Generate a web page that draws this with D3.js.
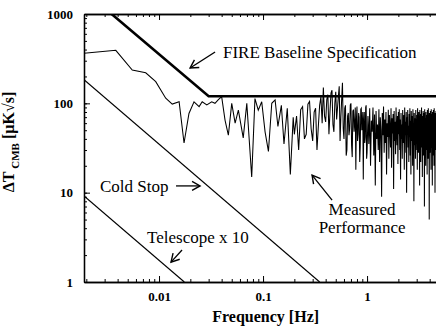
<!DOCTYPE html>
<html>
<head>
<meta charset="utf-8">
<script src="https://cdn.jsdelivr.net/npm/d3@7/dist/d3.min.js"></script>
<style>
  body { margin: 0; background: #fff; }
  svg, svg text { font-family: "Liberation Serif", "Times New Roman", Times, "DejaVu Serif", serif !important; }
  text { fill: #000; }
  .axis path, .axis line { stroke: #000; }
  .axis text { font-weight: bold; font-size: 13px; }
</style>
</head>
<body>
<svg id="chart"></svg>
<script>
// Measured performance, low frequency part (read point by point)
const lowFreq = [0.0019, 0.00384, 0.00553, 0.00745, 0.0093, 0.0116, 0.0134, 0.0156, 0.0174, 0.0194,
  0.0217, 0.0243, 0.026, 0.0288, 0.0321, 0.0345, 0.0372, 0.040, 0.0431, 0.0464,
  0.050, 0.0539, 0.0579, 0.0645, 0.0698, 0.0778, 0.0836, 0.090, 0.0971, 0.1046,
  0.1127, 0.1213, 0.1306, 0.139, 0.150, 0.159, 0.171, 0.183, 0.195];
const lowVals = [363, 392, 236, 220, 175, 114, 98, 104, 36, 77,
  104, 92, 104, 96, 104, 100, 110, 119, 65, 44,
  100, 60, 84, 41, 100, 15, 113, 84, 104, 48,
  29, 100, 109, 55, 95, 35, 88, 16, 70];

// Measured performance, 0.20 - 1.00 Hz, bins 0.01 Hz apart
const midStart = 0.20;
const midStep = 0.01;
const midVals = [
  45, 72, 30, 85, 92, 40, 45, 98, 105, 52,
  38, 80, 88, 30, 55, 95, 118, 60, 150, 72,
  62, 110, 125, 45, 80, 130, 140, 58, 48, 100,
  135, 66, 90, 120, 155, 38, 70, 110, 170, 52,
  40, 88, 95, 26, 30, 72, 78, 44, 52, 96,
  100, 34, 25, 82, 85, 48, 60, 90, 18, 66,
  92, 38, 45, 78, 70, 22, 33, 86, 88, 50,
  56, 80, 14, 62, 80, 36, 42, 90, 95, 24,
  28];

// Measured performance, 1.02 - 4.60 Hz, bins 0.02 Hz apart
const hfStart = 1.02;
const hfStep = 0.02;
const hfVals = [
  72, 35, 88, 20, 64, 48, 90, 26, 75,
  12, 82, 40, 58, 30, 86, 22, 70, 50, 9,
  78, 44, 92, 28, 66, 36, 80, 16, 60, 42,
  85, 24, 74, 54, 32, 88, 19, 68, 46, 76,
  11, 82, 38, 62, 27, 90, 50, 34, 72, 21,
  80, 45, 86, 30, 66, 14, 78, 40, 58, 24,
  84, 52, 36, 74, 18, 90, 44, 62, 28, 80,
  10, 70, 48, 84, 32, 56, 22, 76, 42, 88,
  26, 64, 16, 82, 50, 38, 72, 20, 86, 46,
  60, 8, 78, 34, 68, 52, 24, 84, 40, 74,
  30, 66, 18, 88, 44, 56, 28, 80, 36, 70,
  12, 84, 48, 62, 22, 76, 40, 90, 32, 58,
  15, 72, 46, 82, 26, 64, 38, 78, 7, 86,
  50, 34, 68, 20, 80, 44, 60, 30, 74, 16,
  84, 42, 66, 24, 88, 52, 36, 70, 5, 78,
  48, 62, 28, 82, 40, 70, 18, 86, 46, 56,
  32, 76, 12, 80, 44, 64, 26, 84, 38, 72,
  20, 88, 50, 34, 68, 10, 78, 42, 60, 30,
  82];

// FIRE baseline specification
const specFreq = [0.0035, 0.03, 4.6];
const specVals = [1000, 120, 120];

// Cold stop and telescope (x 10) contributions
const coldFreq = [0.0019, 0.35];
const coldVals = [184, 1];
const teleFreq = [0.0019, 0.0175];
const teleVals = [9.2, 1];

// Tick labels
const xTicks = [0.01, 0.1, 1];
const xTickLabels = ['0.01', '0.1', '1'];
const yTicks = [1, 10, 100, 1000];
const yTickLabels = ['1', '10', '100', '1000'];

const serif = '"Liberation Serif", "Times New Roman", Times, "DejaVu Serif", serif';

class NoiseChart {

  constructor(_config) {
    this.config = {
      parentElement: _config.parentElement,
      containerWidth: 436,
      containerHeight: 327,
      margin: { top: 14, right: 0, bottom: 45, left: 84 }
    };
    this.initVis();
  }

  initVis() {
    let vis = this;

    vis.width = vis.config.containerWidth - vis.config.margin.left - vis.config.margin.right;
    vis.height = vis.config.containerHeight - vis.config.margin.top - vis.config.margin.bottom;

    vis.svg = d3.select(vis.config.parentElement)
        .attr('width', vis.config.containerWidth)
        .attr('height', vis.config.containerHeight)
        .attr('font-family', serif);

    vis.defs = vis.svg.append('defs');
    vis.defs.append('clipPath').attr('id', 'plot-clip')
      .append('rect')
        .attr('width', vis.width)
        .attr('height', vis.height);
    vis.defs.append('marker')
        .attr('id', 'arrow')
        .attr('viewBox', '-10 -6 12 12')
        .attr('refX', 0).attr('refY', 0)
        .attr('markerWidth', 12).attr('markerHeight', 12)
        .attr('markerUnits', 'userSpaceOnUse')
        .attr('orient', 'auto')
      .append('path')
        .attr('d', 'M-8,-4.5L0,0L-8,4.5')
        .attr('fill', 'none')
        .attr('stroke', '#000')
        .attr('stroke-width', 1.4);

    vis.chart = vis.svg.append('g')
        .attr('transform', `translate(${vis.config.margin.left},${vis.config.margin.top})`);

    vis.x = d3.scaleLog().domain([0.0019, 4.6]).range([0, vis.width]);
    vis.y = d3.scaleLog().domain([1, 1000]).range([vis.height, 0]);

    vis.renderVis();
  }

  minorTicks(domain) {
    const out = [];
    for (let d = 0.001; d <= 1000; d *= 10) {
      for (let m = 1; m <= 9; m++) {
        const v = +(d * m).toPrecision(3);
        if (v >= domain[0] && v <= domain[1]) out.push(v);
      }
    }
    return out;
  }

  renderVis() {
    let vis = this;
    const xd = vis.x.domain(), yd = vis.y.domain();

    // minor ticks (bottom, top, left) pointing inward
    vis.chart.append('g').attr('class', 'axis')
        .attr('transform', `translate(0,${vis.height})`)
        .call(d3.axisBottom(vis.x).tickValues(vis.minorTicks(xd)).tickSize(-3).tickSizeOuter(0).tickFormat(''));
    vis.chart.append('g').attr('class', 'axis')
        .call(d3.axisTop(vis.x).tickValues(vis.minorTicks(xd)).tickSize(-3).tickSizeOuter(0).tickFormat(''));
    vis.chart.append('g').attr('class', 'axis')
        .call(d3.axisLeft(vis.y).tickValues(vis.minorTicks(yd)).tickSize(-3).tickSizeOuter(0).tickFormat(''));

    // major ticks with labels
    vis.chart.append('g').attr('class', 'axis')
        .attr('transform', `translate(0,${vis.height})`)
        .call(d3.axisBottom(vis.x).tickValues(xTicks).tickSize(-6).tickSizeOuter(0).tickPadding(10)
          .tickFormat((d, i) => xTickLabels[i]));
    vis.chart.append('g').attr('class', 'axis')
        .call(d3.axisTop(vis.x).tickValues(xTicks).tickSize(-6).tickSizeOuter(0).tickFormat(''));
    vis.chart.append('g').attr('class', 'axis')
        .call(d3.axisLeft(vis.y).tickValues(yTicks).tickSize(-6).tickSizeOuter(0).tickPadding(11)
          .tickFormat((d, i) => yTickLabels[i]));
    vis.chart.selectAll('.axis').attr('font-family', serif);
    vis.chart.selectAll('.axis path.domain').attr('stroke-width', 1.3);

    const line = d3.line().x(d => vis.x(d[0])).y(d => vis.y(d[1]));
    const plot = vis.chart.append('g').attr('clip-path', 'url(#plot-clip)');

    const measured = lowFreq.map((f, i) => [f, lowVals[i]])
      .concat(midVals.map((v, i) => [midStart + i * midStep, v]))
      .concat(hfVals.map((v, i) => [hfStart + i * hfStep, v]));

    plot.append('path')
        .datum(measured)
        .attr('d', line)
        .attr('fill', 'none')
        .attr('stroke', '#000')
        .attr('stroke-width', 1.05);

    plot.append('path')
        .datum(coldFreq.map((f, i) => [f, coldVals[i]]))
        .attr('d', line)
        .attr('fill', 'none').attr('stroke', '#000').attr('stroke-width', 1.2);

    plot.append('path')
        .datum(teleFreq.map((f, i) => [f, teleVals[i]]))
        .attr('d', line)
        .attr('fill', 'none').attr('stroke', '#000').attr('stroke-width', 1.2);

    plot.append('path')
        .datum(specFreq.map((f, i) => [f, specVals[i]]))
        .attr('d', line)
        .attr('fill', 'none').attr('stroke', '#000').attr('stroke-width', 2.6);

    // annotations, placed in data units
    const labels = [
      { text: 'FIRE Baseline Specification', f: 0.0412, v: 321, anchor: 'start' },
      { text: 'Cold Stop', f: 0.00271, v: 10.2, anchor: 'start' },
      { text: 'Telescope x 10', f: 0.00767, v: 2.73, anchor: 'start' },
      { text: 'Measured', f: 0.895, v: 5.61, anchor: 'middle' },
      { text: 'Performance', f: 0.895, v: 3.53, anchor: 'middle' }
    ];
    vis.chart.selectAll('.note')
        .data(labels)
        .join('text')
        .attr('class', 'note')
        .attr('x', d => vis.x(d.f))
        .attr('y', d => vis.y(d.v))
        .attr('text-anchor', d => d.anchor)
        .style('font-size', '17px')
        .text(d => d.text);

    const arrows = [
      { f0: 0.0346, v0: 375, f1: 0.0199, v1: 249 },
      { f0: 0.01457, v0: 11.9, f1: 0.0248, v1: 11.9 },
      { f0: 0.01664, v0: 2.28, f1: 0.01304, v1: 1.67 },
      { f0: 0.461, v0: 8.26, f1: 0.296, v1: 15.7 }
    ];
    vis.chart.selectAll('.arrow')
        .data(arrows)
        .join('line')
        .attr('class', 'arrow')
        .attr('x1', d => vis.x(d.f0)).attr('y1', d => vis.y(d.v0))
        .attr('x2', d => vis.x(d.f1)).attr('y2', d => vis.y(d.v1))
        .attr('stroke', '#000')
        .attr('stroke-width', 1.3)
        .attr('marker-end', 'url(#arrow)');

    // axis titles
    vis.svg.append('text')
        .attr('x', vis.config.margin.left + vis.x(0.106))
        .attr('y', 322)
        .attr('text-anchor', 'middle')
        .style('font-size', '16px')
        .style('font-weight', 'bold')
        .text('Frequency [Hz]');

    const yTitle = vis.svg.append('text')
        .attr('transform', `translate(14,142) rotate(-90)`)
        .attr('text-anchor', 'middle')
        .style('font-size', '16px')
        .style('font-weight', 'bold');
    yTitle.append('tspan').text('\u0394T');
    yTitle.append('tspan').attr('dy', 5).style('font-size', '11px').text(' CMB');
    yTitle.append('tspan').attr('dy', -5).text(' [\u00b5K\u221As]');
  }
}

new NoiseChart({ parentElement: '#chart' });
</script>
</body>
</html>
